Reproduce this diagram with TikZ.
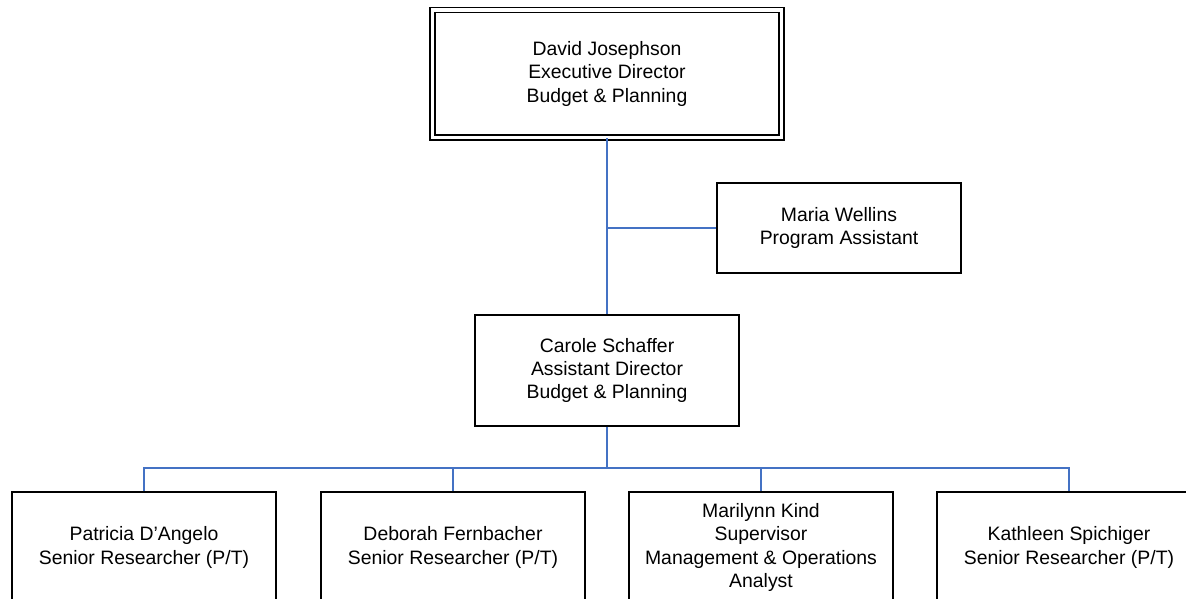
\documentclass[tikz,border=0pt]{standalone}
\usepackage{fontspec}
\setmainfont{Liberation Sans}
\definecolor{linkblue}{RGB}{68,114,196}
\begin{document}
\begin{tikzpicture}[x=1pt, y=-1pt, font=\fontsize{19.4}{23.3}\selectfont,
		box/.style={draw, line width=1.3pt, align=center, inner sep=2pt, minimum width=264pt, minimum height=111pt},
		link/.style={draw=linkblue, line width=1.5pt}]
		\useasboundingbox (0,0) rectangle (1186,599);
		\clip (0,0) rectangle (1186,599);
		% góra: dyrektor w podwójnej ramce, asystentka z boku
		\node[box, double, double distance=3.8pt, line width=1.2pt, minimum width=349pt, minimum height=127.5pt] (dj) at (607,73.75) {David Josephson\\Executive Director\\Budget \& Planning};
		\node[box, minimum width=244pt, minimum height=90pt] (mw) at (839,228) {Maria Wellins\\Program Assistant};
		\node[box] (cs) at (607,370.5) {Carole Schaffer\\Assistant Director\\Budget \& Planning};
		% dolny rząd, ucięty u dołu
		\node[box] (pd) at (144,547.5) {Patricia D’Angelo\\Senior Researcher (P/T)};
		\node[box] (df) at (453,547.5) {Deborah Fernbacher\\Senior Researcher (P/T)};
		\node[box] (mk) at (761,547.5) {Marilynn Kind\\Supervisor\\Management \& Operations\\Analyst};
		\node[box] (ks) at (1069,547.5) {Kathleen Spichiger\\Senior Researcher (P/T)};
		\coordinate (bus) at (607,468);
		\draw[link] (dj.south) -- (cs.north);
		\draw[link] (dj.south |- mw.west) -- (mw.west);
		\draw[link] (cs.south) -- (bus);
		\draw[link] (pd.north) |- (bus) -| (ks.north);
		\draw[link] (df.north) -- (df.north |- bus);
		\draw[link] (mk.north) -- (mk.north |- bus);
	\end{tikzpicture}
\end{document}
